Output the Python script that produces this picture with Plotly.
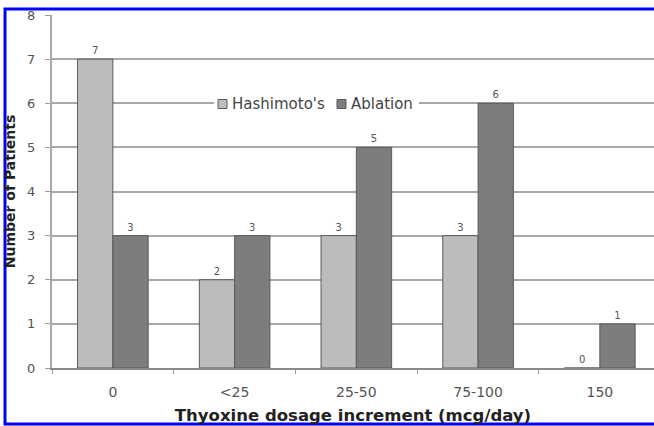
import plotly.graph_objects as go

# Patient counts per thyroxine dosage increment
categories = ["0", "<25", "25-50", "75-100", "150"]
hashimoto = [7, 2, 3, 3, 0]
ablation = [3, 3, 5, 6, 1]
y_ticks = [0, 1, 2, 3, 4, 5, 6, 7, 8]

FONT = "DejaVu Sans, Liberation Sans, sans-serif"
HASHI_FILL, ABL_FILL, EDGE = "#bcbcbc", "#7d7d7d", "#5a5a5a"

fig = go.Figure()
fig.add_trace(go.Bar(
    name="Hashimoto's", x=categories, y=hashimoto,
    marker=dict(color=HASHI_FILL, line=dict(color=EDGE, width=1)),
    text=[str(v) for v in hashimoto], textposition="outside",
    textfont=dict(size=10, color="#555555", family=FONT), cliponaxis=False,
))
fig.add_trace(go.Bar(
    name="Ablation", x=categories, y=ablation,
    marker=dict(color=ABL_FILL, line=dict(color=EDGE, width=1)),
    text=[str(v) for v in ablation], textposition="outside",
    textfont=dict(size=10, color="#555555", family=FONT), cliponaxis=False,
))

W, H = 654, 426
L, R, T, B = 52, 0, 15, 58
pw, ph = W - L - R, H - T - B


def px_x(x):
    return (x - L) / pw


def px_y(y):
    return (H - B - y) / ph


# Compact in-plot legend: white box over the gridline, swatch + label per series
legend_y = 104
legend_items = [("Hashimoto's", HASHI_FILL, 218), ("Ablation", ABL_FILL, 337)]
shapes = [dict(
    type="rect", xref="paper", yref="paper",
    x0=px_x(214), x1=px_x(419), y0=px_y(legend_y + 9), y1=px_y(legend_y - 9),
    line=dict(width=0), fillcolor="white", layer="above",
)]
annotations = []
for name, fill, x0 in legend_items:
    shapes.append(dict(
        type="rect", xref="paper", yref="paper",
        x0=px_x(x0), x1=px_x(x0 + 9), y0=px_y(legend_y + 4.5), y1=px_y(legend_y - 4.5),
        line=dict(color=EDGE, width=1), fillcolor=fill, layer="above",
    ))
    annotations.append(dict(
        text=name, xref="paper", yref="paper", x=px_x(x0 + 12), y=px_y(legend_y),
        xanchor="left", yanchor="middle", showarrow=False,
        font=dict(size=15, color="#444444", family=FONT),
    ))

# Blue frame around the figure
shapes.append(dict(
    type="rect", xref="paper", yref="paper",
    x0=px_x(5), x1=px_x(W + 10), y0=px_y(424), y1=px_y(9),
    line=dict(color="#0000ff", width=3), fillcolor="rgba(0,0,0,0)", layer="above",
))

fig.update_layout(
    width=W, height=H,
    margin=dict(l=L, r=R, t=T, b=B, pad=0),
    paper_bgcolor="white", plot_bgcolor="white",
    font=dict(family=FONT, color="#444444"),
    barmode="group", bargap=0.42, bargroupgap=0,
    showlegend=False,
    xaxis=dict(
        type="category", range=[-0.5, 4.445],
        showline=True, linecolor="#8a8a8a", linewidth=2,
        ticks="outside", ticklen=4, tickcolor="#9a9a9a", tickson="boundaries",
        tickfont=dict(size=14, color="#555555", family=FONT),
        ticklabelstandoff=10,
        title=dict(text="Thyoxine dosage increment (mcg/day)", standoff=11,
                   font=dict(size=16.5, color="#222222", family=FONT, weight="bold")),
        automargin=False, showgrid=False,
    ),
    yaxis=dict(
        range=[0, 8], tickvals=y_ticks,
        showgrid=True, gridcolor="#a8a8a8", gridwidth=1.5,
        showline=True, linecolor="#a8a8a8", linewidth=2,
        ticks="outside", ticklen=5, tickcolor="#9a9a9a",
        tickfont=dict(size=13, color="#555555", family=FONT),
        ticklabelstandoff=7,
        zeroline=False,
        title=dict(text="Number of Patients", standoff=8,
                   font=dict(size=14, color="#222222", family=FONT, weight="bold")),
        automargin=False,
    ),
    shapes=shapes,
    annotations=annotations,
)

fig.write_html("out.html")
